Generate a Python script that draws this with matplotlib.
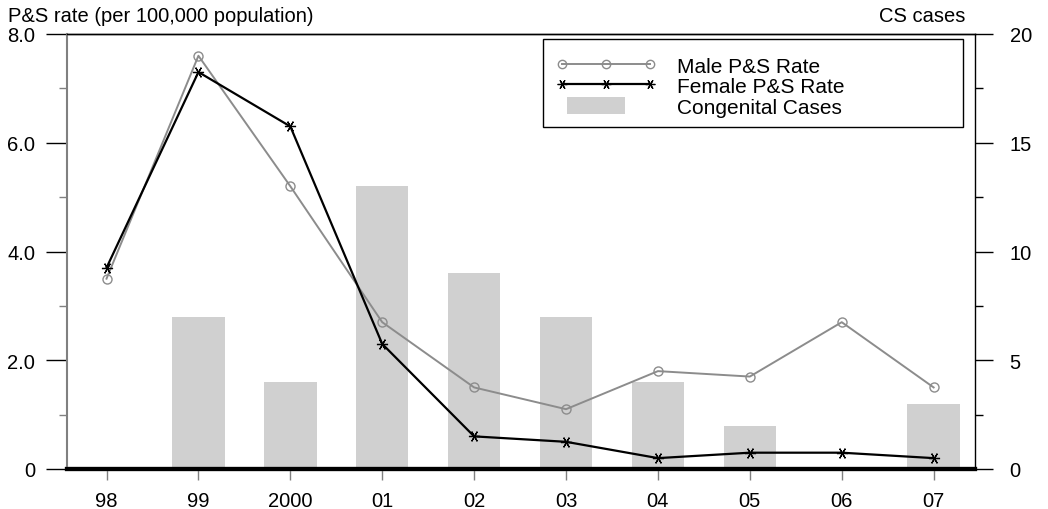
import matplotlib
matplotlib.use("Agg")
import matplotlib.pyplot as plt
from matplotlib.lines import Line2D
from matplotlib.patches import Patch, Rectangle
from matplotlib.legend_handler import HandlerPatch

# data
years = ["98", "99", "2000", "01", "02", "03", "04", "05", "06", "07"]
male_rate = [3.5, 7.6, 5.2, 2.7, 1.5, 1.1, 1.8, 1.7, 2.7, 1.5]
female_rate = [3.7, 7.3, 6.3, 2.3, 0.6, 0.5, 0.2, 0.3, 0.3, 0.2]
cs_cases = [0, 7, 4, 13, 9, 7, 4, 2, 0, 3]

plt.rcParams["font.family"] = ["Liberation Sans", "DejaVu Sans"]
plt.rcParams["font.size"] = 14.5

fig = plt.figure(figsize=(10.48, 5.1), dpi=100)
ax = fig.add_axes([67 / 1048, 40 / 510, (975 - 67) / 1048, (470 - 35) / 510])
ax2 = ax.twinx()
x = list(range(len(years)))

# bars on the right axis, behind the lines
ax2.bar(x, cs_cases, width=0.57, color="#d0d0d0", zorder=1)
ax2.set_ylim(0, 20)
ax2.set_yticks([0, 5, 10, 15, 20])
ax2.set_yticks([2.5, 7.5, 12.5, 17.5], minor=True)
ax2.tick_params(axis="y", which="major", length=13, width=1, pad=12)
ax2.tick_params(axis="y", which="minor", length=6, width=1)

ax.set_zorder(ax2.get_zorder() + 1)
ax.patch.set_visible(False)

ax.plot(x, male_rate, color="#8c8c8c", lw=1.4, marker="o", ms=6.5,
        mfc="none", mec="#8c8c8c", mew=1.0)
ax.plot(x, female_rate, color="black", lw=1.6, marker=(6, 2, 90), ms=8, mew=0.9)

ax.set_xlim(-0.43, 9.45)
ax.set_ylim(0, 8)
ax.set_yticks([0, 2, 4, 6, 8])
ax.set_yticklabels(["0", "2.0", "4.0", "6.0", "8.0"])
ax.set_yticks([1, 3, 5, 7], minor=True)
ax.tick_params(axis="y", which="major", length=15, width=1, pad=8)
ax.tick_params(axis="y", which="minor", length=6, width=1, color="#808080")
ax.set_xticks(x)
ax.set_xticklabels(years)
ax.tick_params(axis="x", length=8, width=1, color="#808080", pad=8)

for a in (ax, ax2):
    a.spines["top"].set_linewidth(1)
    a.spines["bottom"].set_linewidth(3)
    a.spines["bottom"].set_color("black")
    a.spines["right"].set_linewidth(1)
ax.spines["left"].set_color("#808080")
ax.spines["left"].set_linewidth(1.5)
ax2.spines["left"].set_visible(False)
ax.spines["right"].set_visible(False)

fig.text(8 / 1048, 1 - 16 / 510, "P&S rate (per 100,000 population)",
         ha="left", va="center")
fig.text(965 / 1048, 1 - 16 / 510, "CS cases", ha="right", va="center")

# legend box drawn separately so it can be wider than its contents
fig.patches.append(Rectangle((543 / 1048, 1 - 128 / 510), 420 / 1048, 88 / 510,
                             transform=fig.transFigure, fill=True, facecolor="white",
                             edgecolor="black", lw=1, zorder=3))


def small_bar(legend, orig_handle, xdescent, ydescent, width, height, fontsize):
    return Rectangle((-xdescent + 0.11 * width, -ydescent), 0.58 * width, height)


handles = [
    Line2D([], [], color="#8c8c8c", lw=1.4, marker="o", ms=6, mfc="none", mew=1.0),
    Line2D([], [], color="black", lw=1.6, marker=(6, 2, 90), ms=7, mew=0.9),
    Patch(facecolor="#d0d0d0", edgecolor="none"),
]
leg = fig.legend(handles, ["Male P&S Rate", "Female P&S Rate", "Congenital Cases"],
                 loc="upper left", bbox_to_anchor=(556 / 1048, 1 - 57 / 510),
                 numpoints=3, handlelength=4.8, handleheight=0.85,
                 labelspacing=0.05, borderpad=0, handletextpad=1.0,
                 frameon=False, fontsize=15, borderaxespad=0,
                 handler_map={Patch: HandlerPatch(patch_func=small_bar)})
leg.set_zorder(4)

fig.savefig("out.png", dpi=100)
